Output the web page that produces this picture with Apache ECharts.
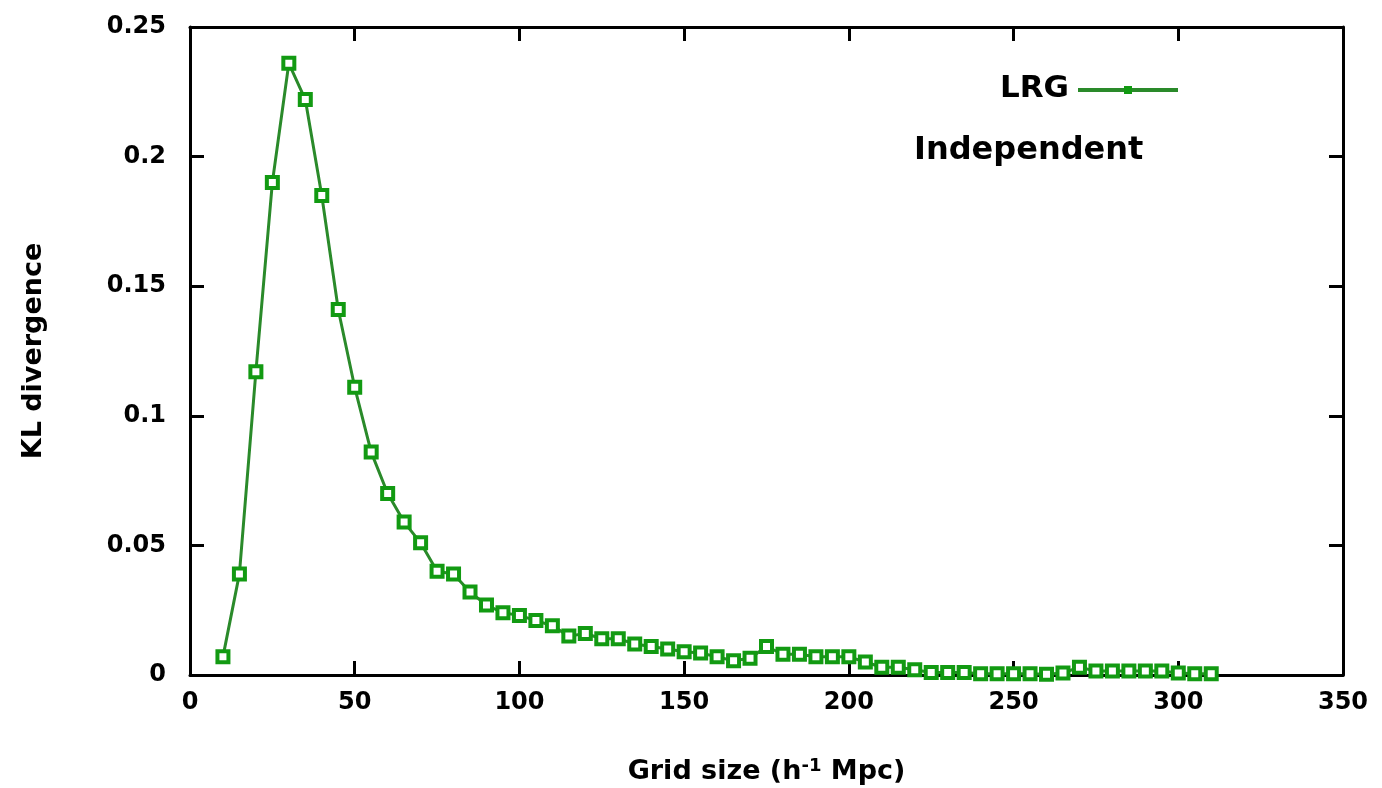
<!DOCTYPE html>
<html>
<head>
<meta charset="utf-8">
<script src="https://cdn.jsdelivr.net/npm/echarts@6/dist/echarts.min.js"></script>
<style>
  html, body { margin: 0; padding: 0; background: #fff; }
  #main { width: 1382px; height: 788px; }
</style>
</head>
<body>
<div id="main"></div>
<script>
// grid sizes (h^-1 Mpc)
var gridSizes = [10, 15, 20, 25, 30, 35, 40, 45, 50, 55, 60, 65, 70, 75, 80, 85, 90, 95, 100,
  105, 110, 115, 120, 125, 130, 135, 140, 145, 150, 155, 160, 165, 170, 175, 180, 185, 190,
  195, 200, 205, 210, 215, 220, 225, 230, 235, 240, 245, 250, 255, 260, 265, 270, 275, 280,
  285, 290, 295, 300, 305, 310];
// KL divergence, LRG independent
var klValues = [0.007, 0.039, 0.117, 0.190, 0.236, 0.222, 0.185, 0.141, 0.111, 0.086, 0.070,
  0.059, 0.051, 0.040, 0.039, 0.032, 0.027, 0.024, 0.023, 0.021, 0.019, 0.015, 0.016, 0.014,
  0.014, 0.012, 0.011, 0.010, 0.009, 0.0085, 0.007, 0.0055, 0.0065, 0.011, 0.008, 0.008,
  0.007, 0.007, 0.007, 0.005, 0.003, 0.003, 0.002, 0.001, 0.001, 0.001, 0.0005, 0.0005,
  0.0005, 0.0005, 0.0003, 0.0008, 0.003, 0.0015, 0.0015, 0.0015, 0.0015, 0.0015, 0.0008,
  0.0005, 0.0005];

var chart = echarts.init(document.getElementById("main"));
var font = "DejaVu Sans";
var lineCol = "#2a8a2a";
var markCol = "#129a12";

var axisBase = {
  axisLine: { show: true, onZero: false, lineStyle: { color: "#000", width: 3 } },
  axisTick: { show: true, inside: true, length: 14, lineStyle: { color: "#000", width: 3 } },
  splitLine: { show: false }
};

chart.setOption({
  animation: false,
  grid: { left: 190, right: 39, top: 27, bottom: 113, outerBoundsMode: "none" },
  legend: {
    right: 197,
    top: 80,
    data: [{ name: "LRG", itemStyle: { color: markCol, borderColor: markCol, borderWidth: 0 } }],
    itemWidth: 100,
    itemHeight: 10,
    itemGap: 0,
    lineStyle: { width: 4, color: lineCol },
    formatter: function() { return ""; },
    textStyle: { fontSize: 1 }
  },
  graphic: [
    { type: "text", right: 313, top: 73,
      style: { text: "LRG", font: "bold 31px " + font, fill: "#000", textAlign: "right" } },
    { type: "text", left: 914, top: 135,
      style: { text: "Independent", font: "bold 32px " + font, fill: "#000" } }
  ],
  xAxis: [
    Object.assign({}, axisBase, {
      type: "value", min: 0, max: 350, interval: 50,
      name: "Grid size (h{sup|-1} Mpc)",
      nameLocation: "middle",
      nameGap: 82,
      nameTextStyle: {
        fontFamily: font, fontWeight: "bold", fontSize: 27, color: "#000",
        rich: { sup: { fontFamily: font, fontWeight: "bold", fontSize: 18, verticalAlign: "top", padding: [0, 0, 12, 0], color: "#000" } }
      },
      axisLabel: { fontFamily: font, fontWeight: "bold", fontSize: 24, color: "#000", margin: 16 }
    }),
    Object.assign({}, axisBase, {
      type: "value", min: 0, max: 350, interval: 50, position: "top",
      axisLabel: { show: false }
    })
  ],
  yAxis: [
    Object.assign({}, axisBase, {
      type: "value", min: 0, max: 0.25, interval: 0.05,
      name: "KL divergence",
      nameLocation: "middle",
      nameGap: 143,
      nameTextStyle: { fontFamily: font, fontWeight: "bold", fontSize: 27, color: "#000" },
      axisLabel: {
        fontFamily: font, fontWeight: "bold", fontSize: 24, color: "#000", margin: 24,
        formatter: function(v) { return String(Math.round(v * 100) / 100); }
      }
    }),
    Object.assign({}, axisBase, {
      type: "value", min: 0, max: 0.25, interval: 0.05, position: "right",
      axisLabel: { show: false }
    })
  ],
  series: [{
    name: "LRG",
    type: "line",
    data: gridSizes.map(function(x, i) { return [x, klValues[i]]; }),
    symbol: "rect",
    symbolSize: 11,
    showAllSymbol: true,
    lineStyle: { color: lineCol, width: 3 },
    itemStyle: { color: "#fff", borderColor: markCol, borderWidth: 4 }
  }]
});
</script>
</body>
</html>
